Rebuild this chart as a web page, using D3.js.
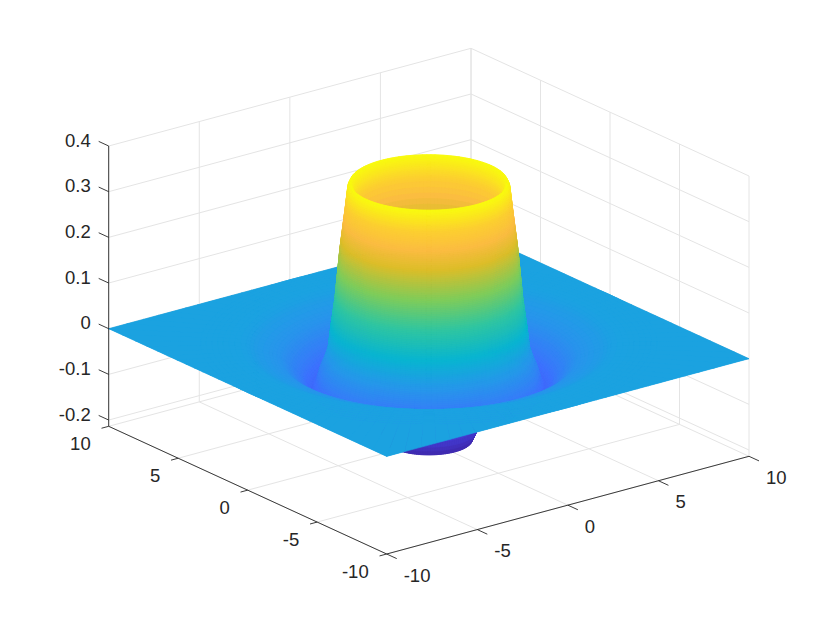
<!DOCTYPE html>
<html>
<head>
<meta charset="utf-8">
<script src="https://d3js.org/d3.v7.min.js"></script>
<style>html,body{margin:0;padding:0;background:#fff}svg{display:block}</style>
</head>
<body>
<svg id="chart" width="830" height="623"></svg>
<script>
const xTicks = [-10, -5, 0, 5, 10];
const yTicks = [-10, -5, 0, 5, 10];
const zTicks = [-0.2, -0.1, 0, 0.1, 0.2, 0.3, 0.4];
const xyLimits = [-10, 10];
const zLimits = [-0.2137, 0.4];
const colorLimits = [-0.2137, 0.353];
// radial height profile of the surface
const profileR = [0, 1, 1.5, 1.9, 2.1, 2.3, 2.5, 2.7, 2.85, 3.0, 3.13, 3.27, 3.37, 3.45, 3.55, 3.68, 3.9, 4.12, 4.3, 4.42, 4.6, 4.77, 4.95, 5.1, 5.3, 5.5, 6.0, 6.5, 7.0, 7.5, 8.0, 8.5, 9.0, 10];
const profileZ = [-0.2137, -0.2135, -0.213, -0.21, -0.19, -0.13, -0.05, 0.05, 0.14, 0.24, 0.3, 0.335, 0.348, 0.353, 0.343, 0.29, 0.206, 0.096, 0.035, -0.013, -0.038, -0.057, -0.085, -0.098, -0.09, -0.075, -0.05, -0.03, -0.0215, -0.0136, -0.0036, -0.001, 0, 0];
const colorStopsT = [0, 0.111, 0.222, 0.333, 0.444, 0.556, 0.667, 0.778, 0.85, 0.92, 1];
const colorStopsC = ["#3e26a8", "#4747eb", "#3e6fff", "#2796eb", "#08b5d0", "#31c69f", "#80cc59", "#dcbd29", "#fbbc41", "#fccf30", "#f9fb0e"];

const xS = d3.scaleLinear().domain(xyLimits).range([0, 1]);
const yS = d3.scaleLinear().domain(xyLimits).range([0, 1]);
const zS = d3.scaleLinear().domain(zLimits).range([0, 1]);
const heightAt = d3.scaleLinear().domain(profileR).range(profileZ).clamp(true);
const colorT = d3.scaleLinear().domain(colorLimits).range([0, 1]).clamp(true);
const colorMap = d3.scaleLinear().domain(colorStopsT).range(colorStopsC);

const O = [386.7, 554], VX = [362.3, -97.7], VY = [-278, -127.7], VZ = [0, -280.3];
function P(x, y, z) {
  const a = xS(x), b = yS(y), c = zS(z);
  return [O[0] + a * VX[0] + b * VY[0] + c * VZ[0], O[1] + a * VX[1] + b * VY[1] + c * VZ[1]];
}

const svg = d3.select("#chart");
const gridCol = "#e4e4e4", axisCol = "#262626";
const [lo, hi] = xyLimits, [zlo, zhi] = zLimits;
const grid = svg.append("g").attr("fill", "none").attr("stroke", gridCol).attr("stroke-width", 1);
function seg(g, a, b) { g.append("line").attr("x1", a[0]).attr("y1", a[1]).attr("x2", b[0]).attr("y2", b[1]); }
xTicks.forEach(t => { seg(grid, P(t, lo, zlo), P(t, hi, zlo)); seg(grid, P(t, hi, zlo), P(t, hi, zhi)); });
yTicks.forEach(t => { seg(grid, P(lo, t, zlo), P(hi, t, zlo)); seg(grid, P(hi, t, zlo), P(hi, t, zhi)); });
zTicks.forEach(t => { seg(grid, P(lo, hi, t), P(hi, hi, t)); seg(grid, P(hi, lo, t), P(hi, hi, t)); });

// surface mesh: rings refined between the profile knots for smooth colour
const rings = [];
profileR.slice(0, -1).forEach((r, i) => {
  const r2 = profileR[i + 1], dz = Math.abs(profileZ[i + 1] - profileZ[i]);
  const step = r < 3.1 ? 0.012 : 0.004;
  const n = Math.max(1, Math.ceil(dz / step), Math.ceil((r2 - r) / 0.25));
  d3.range(n).forEach(k => rings.push(r + (r2 - r) * k / n));
});
rings.push(10);
const nA = 120;
const angles = d3.range(nA + 1).map(i => i * 2 * Math.PI / nA);
const cells = [];
const line = d3.line();
function edgeR(a) { return 10 / Math.max(Math.abs(Math.cos(a)), Math.abs(Math.sin(a))); }
for (let i = 0; i < nA; i++) {
  const a0 = angles[i], a1 = angles[i + 1];
  const radial = rings.map(r => [r, r]);
  radial.push([edgeR(a0), edgeR(a1)]);
  for (let j = 0; j < radial.length - 1; j++) {
    const [r00, r01] = radial[j], [r10, r11] = radial[j + 1];
    const pts = [[r00, a0], [r10, a0], [r11, a1], [r01, a1]].map(([r, a]) => [r * Math.cos(a), r * Math.sin(a), heightAt(r)]);
    const cx = d3.mean(pts, p => p[0]), cy = d3.mean(pts, p => p[1]), cz = d3.mean(pts, p => p[2]);
    cells.push({ d: line(pts.map(p => P(p[0], p[1], p[2]))) + "Z", ring: j, key: -6348 * cx - 8273 * cy, c: colorMap(colorT(cz)) });
  }
}
// back half: outer rings first; front half: inner rings first
cells.sort((a, b) => {
  const ha = a.key < 0 ? 0 : 1, hb = b.key < 0 ? 0 : 1;
  if (ha !== hb) return ha - hb;
  if (a.ring !== b.ring) return ha === 0 ? b.ring - a.ring : a.ring - b.ring;
  return a.key - b.key;
});
const planeCorners = [[lo, lo], [hi, lo], [hi, hi], [lo, hi]].map(c => P(c[0], c[1], 0));
svg.append("path").attr("d", line(planeCorners) + "Z").attr("fill", colorMap(colorT(0)));
svg.append("g").attr("stroke-width", 0.6).attr("stroke-linejoin", "round")
  .selectAll("path").data(cells).join("path")
  .attr("d", d => d.d).attr("fill", d => d.c).attr("stroke", d => d.c);

// axes
const axes = svg.append("g").attr("fill", "none").attr("stroke", axisCol).attr("stroke-width", 0.9);
seg(axes, P(lo, lo, zlo), P(hi, lo, zlo));
seg(axes, P(lo, lo, zlo), P(lo, hi, zlo));
seg(axes, P(lo, hi, zlo), P(lo, hi, zhi));
const tickLen = 0.72;
const labels = svg.append("g").attr("fill", axisCol).attr("font-family", "Liberation Sans, Arial, sans-serif").attr("font-size", 18.5);
function label(x, y, txt, anchor) {
  labels.append("text").attr("x", x).attr("y", y).attr("text-anchor", anchor).attr("dominant-baseline", "central").text(txt);
}
xTicks.forEach(t => {
  const p = P(t, lo, zlo);
  seg(axes, p, P(t, lo - tickLen, zlo));
  label(p[0] + 17, p[1] + 21, String(t), "start");
});
yTicks.forEach(t => {
  const p = P(lo, t, zlo);
  seg(axes, p, P(lo - tickLen * 0.55, t, zlo));
  label(p[0] - 18, p[1] + 17.5, String(t), "end");
});
zTicks.forEach(t => {
  const p = P(lo, hi, t);
  seg(axes, p, P(lo, hi + tickLen, t));
  label(p[0] - 18, p[1] - 6, String(t), "end");
});
</script>
</body>
</html>
